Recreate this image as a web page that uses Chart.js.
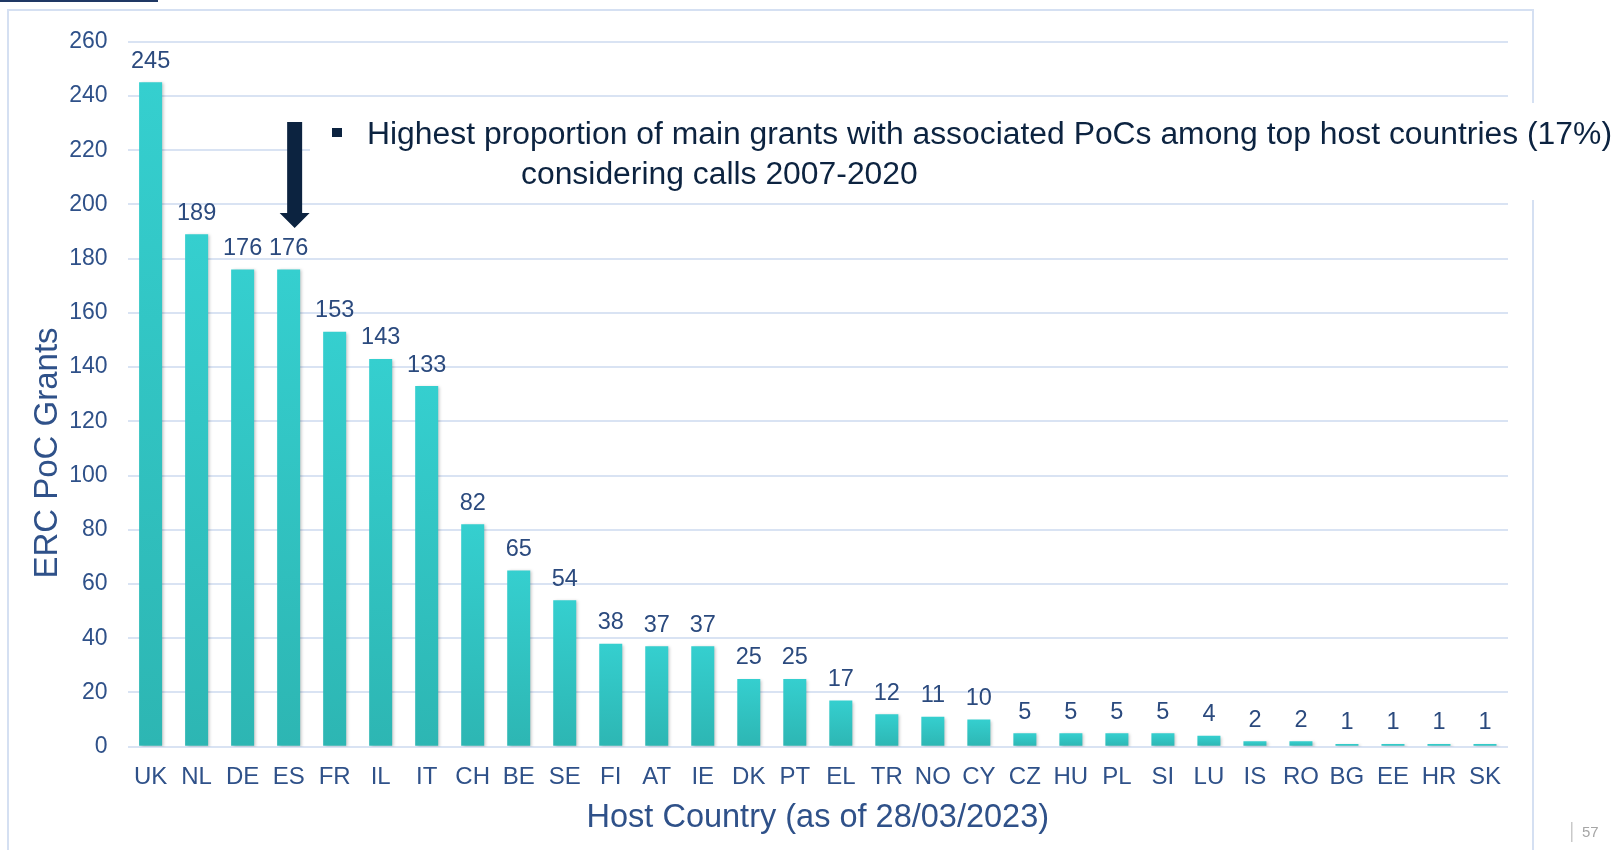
<!DOCTYPE html>
<html>
<head>
<meta charset="utf-8">
<title>ERC PoC Grants by Host Country</title>
<script src="https://cdn.jsdelivr.net/npm/chart.js@4.4.1/dist/chart.umd.min.js"></script>
<style>
  html, body { margin: 0; padding: 0; background: #fff; }
  #wrap { width: 1618px; height: 850px; }
</style>
</head>
<body>
<div id="wrap"><canvas id="pocChart" width="1618" height="850"></canvas></div>
<script>
// values
var countries = ["UK", "NL", "DE", "ES", "FR", "IL", "IT", "CH", "BE", "SE",
  "FI", "AT", "IE", "DK", "PT", "EL", "TR", "NO", "CY", "CZ",
  "HU", "PL", "SI", "LU", "IS", "RO", "BG", "EE", "HR", "SK"];
var grants = [245, 189, 176, 176, 153, 143, 133, 82, 65, 54,
  38, 37, 37, 25, 25, 17, 12, 11, 10, 5,
  5, 5, 5, 4, 2, 2, 1, 1, 1, 1];
var yTitle = "ERC PoC Grants";
var xTitle = "Host Country (as of 28/03/2023)";
var noteLines = [
  "Highest proportion of main grants with associated PoCs among top host countries (17%)",
  "considering calls 2007-2020"
];
var noteCountry = "ES";
var pageNo = "57";

var FONT = "'Liberation Sans', Arial, sans-serif";
var NAVY = "#2f5189";

// per-bar gradient, lighter at the top
function barFill(c) {
  var chart = c.chart;
  if (!chart.chartArea || c.type !== "data") return "#31c5c5";
  var y = chart.scales.y;
  var top = y.getPixelForValue(c.raw);
  var base = y.getPixelForValue(0);
  if (base - top < 1) return "#33caca";
  var g = chart.ctx.createLinearGradient(0, top, 0, base);
  g.addColorStop(0, "#35cfcf");
  g.addColorStop(1, "#2db6b3");
  return g;
}

var backgroundPlugin = {
  id: "slideBg",
  beforeDraw: function (chart) {
    var ctx = chart.ctx;
    ctx.save();
    ctx.fillStyle = "#fff";
    ctx.fillRect(0, 0, chart.width, chart.height);
    ctx.strokeStyle = "#d5e0f2";
    ctx.lineWidth = 2;
    ctx.strokeRect(8, 10, 1525, 900);
    ctx.fillStyle = "#1f3864";
    ctx.fillRect(0, 0, 158, 2);
    ctx.restore();
  }
};

var barLabelPlugin = {
  id: "barLabels",
  beforeDatasetsDraw: function (chart) {
    var ctx = chart.ctx;
    ctx.save();
    ctx.shadowColor = "rgba(0,0,0,0.22)";
    ctx.shadowBlur = 3;
    ctx.shadowOffsetX = 2;
    ctx.shadowOffsetY = 1;
  },
  afterDatasetsDraw: function (chart) {
    var ctx = chart.ctx;
    ctx.restore();
    ctx.save();
    ctx.fillStyle = "#2b4a7e";
    ctx.font = "23.5px " + FONT;
    ctx.textAlign = "center";
    ctx.textBaseline = "alphabetic";
    chart.getDatasetMeta(0).data.forEach(function (bar, i) {
      ctx.fillText(String(grants[i]), bar.x, bar.y - 14.5);
    });
    ctx.restore();
  }
};

var notePlugin = {
  id: "note",
  afterDraw: function (chart) {
    var ctx = chart.ctx;
    var xs = chart.scales.x;
    var ys = chart.scales.y;
    ctx.save();

    // white box behind the note text
    ctx.fillStyle = "#fff";
    ctx.fillRect(310, 103, 1308, 97);

    // arrow pointing at ES
    var ax = xs.getPixelForValue(countries.indexOf(noteCountry)) + 6;
    var top = ys.getPixelForValue(230.4);
    var neck = ys.getPixelForValue(196.8);
    var tip = ys.getPixelForValue(191.3);
    ctx.fillStyle = "#0c2340";
    ctx.beginPath();
    ctx.moveTo(ax - 7.5, top);
    ctx.lineTo(ax + 7.5, top);
    ctx.lineTo(ax + 7.5, neck);
    ctx.lineTo(ax + 15, neck);
    ctx.lineTo(ax, tip);
    ctx.lineTo(ax - 15, neck);
    ctx.lineTo(ax - 7.5, neck);
    ctx.closePath();
    ctx.fill();

    // note text (narrow font look)
    ctx.fillRect(332, 128, 10, 9);
    ctx.font = "31px " + FONT;
    ctx.textAlign = "left";
    ctx.textBaseline = "alphabetic";
    var sx = 1245 / ctx.measureText(noteLines[0]).width;
    ctx.save();
    ctx.translate(367, 144);
    ctx.scale(sx, 1);
    ctx.fillText(noteLines[0], 0, 0);
    ctx.restore();
    ctx.save();
    ctx.translate(521, 183.5);
    ctx.scale(sx, 1);
    ctx.fillText(noteLines[1], 0, 0);
    ctx.restore();

    // y axis title
    ctx.save();
    ctx.fillStyle = NAVY;
    ctx.font = "33px " + FONT;
    ctx.textAlign = "center";
    ctx.textBaseline = "alphabetic";
    ctx.translate(56.8, 453);
    ctx.rotate(-Math.PI / 2);
    ctx.fillText(yTitle, 0, 0);
    ctx.restore();

    // page number
    ctx.fillStyle = "#c9c9c9";
    ctx.fillRect(1571, 822, 1.5, 20);
    ctx.fillStyle = "#a6a6a6";
    ctx.font = "15px " + FONT;
    ctx.textBaseline = "middle";
    ctx.fillText(pageNo, 1582, 833);

    ctx.restore();
  }
};

new Chart(document.getElementById("pocChart"), {
  type: "bar",
  data: {
    labels: countries,
    datasets: [
      {
        label: yTitle,
        data: grants,
        backgroundColor: barFill,
        borderWidth: 0,
        barPercentage: 0.5,
        categoryPercentage: 1
      }
    ]
  },
  options: {
    responsive: false,
    animation: false,
    layout: { padding: { left: 0, right: 110, top: 41.7, bottom: 0 } },
    plugins: { legend: { display: false }, tooltip: { enabled: false } },
    scales: {
      x: {
        grid: { display: false },
        border: { display: false },
        ticks: {
          color: NAVY,
          font: { family: FONT, size: 24 },
          padding: 8,
          maxRotation: 0,
          autoSkip: false
        },
        title: {
          display: true,
          text: xTitle,
          color: NAVY,
          font: { family: FONT, size: 32.5 },
          padding: { top: 0, bottom: 12.5 }
        },
        afterFit: function (s) { s.height = 103.3; }
      },
      y: {
        min: 0,
        max: 260,
        ticks: {
          stepSize: 20,
          color: NAVY,
          font: { family: FONT, size: 23 },
          padding: 20
        },
        grid: { color: "#d9e3f3", lineWidth: 2, drawTicks: false },
        border: { display: false },
        afterFit: function (s) { s.width = 127.6; }
      }
    }
  },
  plugins: [backgroundPlugin, barLabelPlugin, notePlugin]
});
</script>
</body>
</html>
